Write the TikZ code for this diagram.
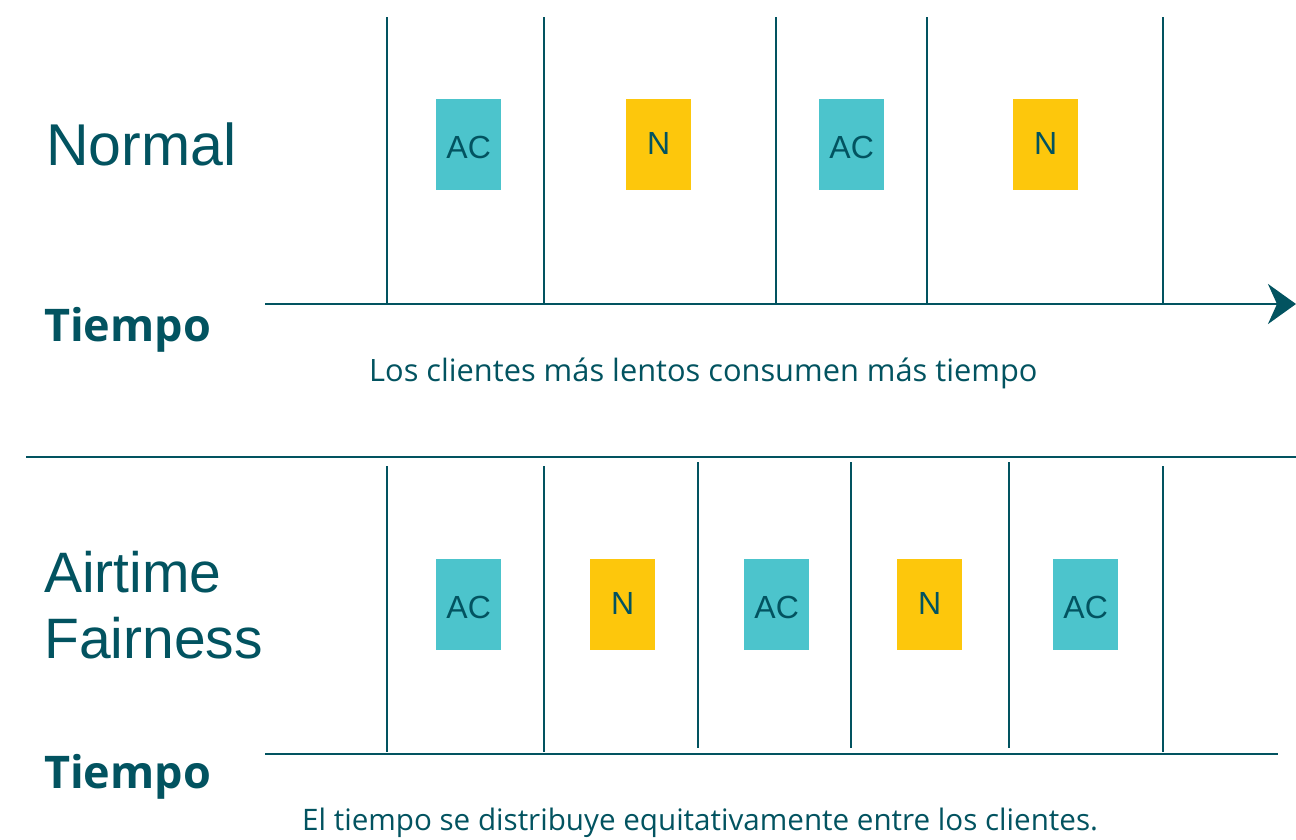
\documentclass[tikz,border=0pt]{standalone}
\usepackage{fontspec}
\setmainfont{Open Sans}
\newfontfamily\helv{Liberation Sans}
\usetikzlibrary{arrows.meta}
\definecolor{teal}{RGB}{2,83,96}
\definecolor{accyan}{RGB}{76,196,204}
\definecolor{nyellow}{RGB}{253,199,12}
\tikzset{
  rule/.style={draw=teal, line width=2.9pt},
  slot/.style={rectangle, minimum width=65pt, minimum height=91pt, inner sep=0pt, anchor=north west},
  acbox/.style={slot, fill=accyan},
  nbox/.style={slot, fill=nyellow},
  boxlabel/.style={text=teal, font=\helv\fontsize{32}{32}\selectfont, inner sep=0pt},
  title/.style={text=teal, font=\helv\fontsize{59}{66}\selectfont, inner sep=0pt, anchor=base west, align=left},
  axislabel/.style={text=teal, font=\bfseries\fontsize{45}{45}\selectfont, inner sep=0pt, anchor=base west},
  caption/.style={text=teal, inner sep=0pt, anchor=base west},
}
\begin{document}
\begin{tikzpicture}[x=1pt,y=-1pt]
\useasboundingbox (0,0) rectangle (1296,839);
% ---------- top panel ----------
\node[title] (normal) at (46,165) {Normal};
\node[axislabel] (t1) at (44,341) {Tiempo};
\coordinate (a1s) at (265,304);
\coordinate (a1e) at (1296,304);
\draw[rule, -{Stealth[length=28pt,width=40pt,inset=9pt]}] (a1s) -- (a1e);
\foreach \x [count=\i] in {387,544,776,927,1163}{
  \coordinate (u\i t) at (\x,17);
  \coordinate (u\i b) at (\x,303);
  \draw[rule] (u\i t) -- (u\i b);
}
\node[acbox] (b1) at (436,99) {};
\node[nbox]  (b2) at (626,99) {};
\node[acbox] (b3) at (819,99) {};
\node[nbox]  (b4) at (1013,99) {};
\node[boxlabel] at ([yshift=-3pt]b1.center) {AC};
\node[boxlabel] at ([yshift=1pt]b2.center) {N};
\node[boxlabel] at ([yshift=-3pt]b3.center) {AC};
\node[boxlabel] at ([yshift=1pt]b4.center) {N};
\node[caption, font=\fontsize{30.8}{30.8}\selectfont] (c1) at (369,381) {Los clientes más lentos consumen más tiempo};
% ---------- separator ----------
\coordinate (s1) at (26,457);
\coordinate (s2) at (1296,457);
\draw[rule] (s1) -- (s2);
% ---------- bottom panel ----------
\node[title, font=\helv\fontsize{57}{66}\selectfont] (atf) at (44,658) {Airtime\\Fairness};
\node[axislabel] (t2) at (44,788) {Tiempo};
\coordinate (a2s) at (265,754);
\coordinate (a2e) at (1278,754);
\draw[rule] (a2s) -- (a2e);
\foreach \x/\yt/\yb [count=\i] in {387/466/752,544/466/752,698/462/748,851/462/748,1009/462/748,1163/466/752}{
  \coordinate (l\i t) at (\x,\yt);
  \coordinate (l\i b) at (\x,\yb);
  \draw[rule] (l\i t) -- (l\i b);
}
\node[acbox] (d1) at (436,559) {};
\node[nbox]  (d2) at (590,559) {};
\node[acbox] (d3) at (744,559) {};
\node[nbox]  (d4) at (897,559) {};
\node[acbox] (d5) at (1053,559) {};
\node[boxlabel] at ([yshift=-3pt]d1.center) {AC};
\node[boxlabel] at ([yshift=1pt]d2.center) {N};
\node[boxlabel] at ([yshift=-3pt]d3.center) {AC};
\node[boxlabel] at ([yshift=1pt]d4.center) {N};
\node[boxlabel] at ([yshift=-3pt]d5.center) {AC};
\node[caption, font=\fontsize{29.6}{29.6}\selectfont] (c2) at (302,830) {El tiempo se distribuye equitativamente entre los clientes.};
\end{tikzpicture}
\end{document}
